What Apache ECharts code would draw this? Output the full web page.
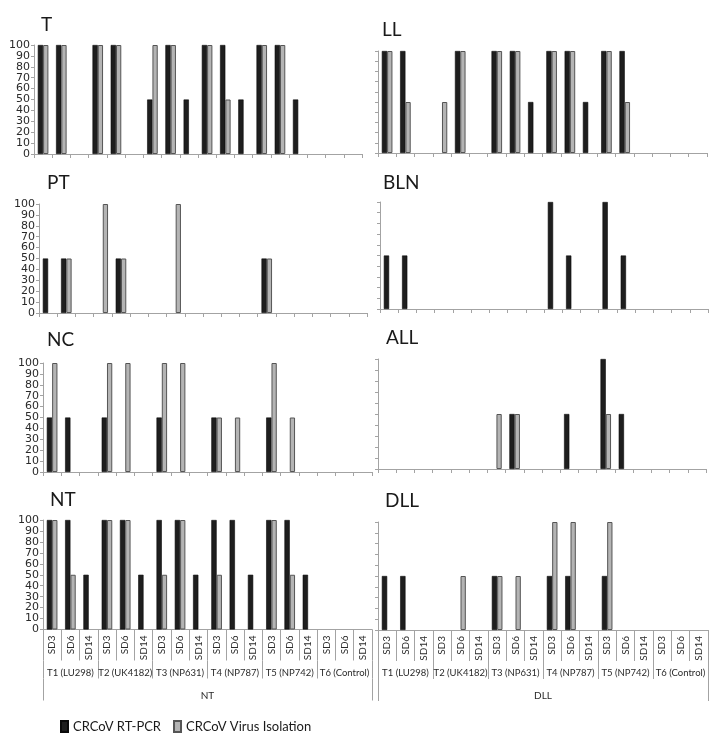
<!DOCTYPE html>
<html><head><meta charset="utf-8">
<script src="https://cdn.jsdelivr.net/npm/echarts@6/dist/echarts.min.js"></script>
<style>html,body{margin:0;padding:0;background:#fff}#c{width:722px;height:738px}</style>
</head><body><div id="c"></div>
<script>
// ---- data ----
const groups = ['T1 (LU298)','T2 (UK4182)','T3 (NP631)','T4 (NP787)','T5 (NP742)','T6 (Control)'];
const days = ['SD3','SD6','SD14'];
const dayLabels = groups.flatMap(() => days);
const seriesNames = ['CRCoV RT-PCR','CRCoV Virus Isolation'];
const yTicks = [0,10,20,30,40,50,60,70,80,90,100];

const T_pcr   = [100,100,0,100,100,0,50,100,50,100,100,50,100,100,50,0,0,0];
const T_vi    = [100,100,0,100,100,0,100,100,0,100,50,0,100,100,0,0,0,0];
const LL_pcr  = [100,100,0,0,100,0,100,100,50,100,100,50,100,100,0,0,0,0];
const LL_vi   = [100,50,0,50,100,0,100,100,0,100,100,0,100,50,0,0,0,0];
const PT_pcr  = [50,50,0,0,50,0,0,0,0,0,0,0,50,0,0,0,0,0];
const PT_vi   = [0,50,0,100,50,0,0,100,0,0,0,0,50,0,0,0,0,0];
const BLN_pcr = [50,50,0,0,0,0,0,0,0,100,50,0,100,50,0,0,0,0];
const BLN_vi  = [0,0,0,0,0,0,0,0,0,0,0,0,0,0,0,0,0,0];
const NC_pcr  = [50,50,0,50,0,0,50,0,0,50,0,0,50,0,0,0,0,0];
const NC_vi   = [100,0,0,100,100,0,100,100,0,50,50,0,100,50,0,0,0,0];
const ALL_pcr = [0,0,0,0,0,0,0,50,0,0,50,0,100,50,0,0,0,0];
const ALL_vi  = [0,0,0,0,0,0,50,50,0,0,0,0,50,0,0,0,0,0];
const NT_pcr  = [100,100,50,100,100,50,100,100,50,100,100,50,100,100,50,0,0,0];
const NT_vi   = [100,50,0,100,100,0,50,100,0,50,0,0,100,50,0,0,0,0];
const DLL_pcr = [50,50,0,0,0,0,50,0,0,50,50,0,50,0,0,0,0,0];
const DLL_vi  = [0,0,0,0,50,0,50,50,0,100,100,0,100,0,0,0,0,0];

const panels = [
  {name:'T',   pcr:T_pcr,   vi:T_vi},
  {name:'LL',  pcr:LL_pcr,  vi:LL_vi},
  {name:'PT',  pcr:PT_pcr,  vi:PT_vi},
  {name:'BLN', pcr:BLN_pcr, vi:BLN_vi},
  {name:'NC',  pcr:NC_pcr,  vi:NC_vi},
  {name:'ALL', pcr:ALL_pcr, vi:ALL_vi},
  {name:'NT',  pcr:NT_pcr,  vi:NT_vi, colLabel:'NT'},
  {name:'DLL', pcr:DLL_pcr, vi:DLL_vi, colLabel:'DLL'}
];

// ---- layout ----
const layout = [
  {left:34,  top:45,  width:328, height:109, tx:41,  ty:15,  yLab:true},
  {left:378, top:51,  width:329, height:102, tx:382, ty:20,  yLab:false},
  {left:39,  top:204, width:328, height:109, tx:47,  ty:173, yLab:true},
  {left:380, top:202, width:328, height:107, tx:383, ty:173, yLab:false},
  {left:43,  top:363, width:329, height:109, tx:47,  ty:330, yLab:true},
  {left:378, top:359, width:328, height:110, tx:386, ty:328, yLab:false},
  {left:43,  top:520, width:329, height:109.5, tx:50,  ty:490, yLab:true,  bottom:true},
  {left:378, top:522, width:330, height:108, tx:385, ty:491, yLab:false, bottom:true}
];

const FONT = 'Lato';
const AX = '#a3a3a3';
const TXT = '#2a2a2a';
const grid = [], xAxis = [], yAxis = [], series = [], title = [];
const nz = arr => arr.map(v => v === 0 ? '-' : v);

panels.forEach((p, i) => {
  const L = layout[i];
  grid.push({left:L.left, top:L.top, width:L.width, height:L.height});
  title.push({text:p.name, left:L.tx, top:L.ty, padding:0,
    textStyle:{fontFamily:FONT, fontSize:19, fontWeight:'normal', color:'#1a1a1a'}});
  const mainIdx = xAxis.length;
  xAxis.push({
    type:'category', gridIndex:i, data:dayLabels, boundaryGap:true,
    axisLine:{show:true, lineStyle:{color:AX, width:1}},
    axisTick:{show:true, interval:0, alignWithLabel:false, length:L.bottom?31:4, lineStyle:{color:AX}},
    axisLabel: L.bottom ? {show:true, interval:0, rotate:90, fontSize:10, margin:6, color:TXT, fontFamily:FONT, hideOverlap:false}
                        : {show:false},
    splitLine:{show:false}
  });
  if (L.bottom) {
    xAxis.push({
      type:'category', gridIndex:i, position:'bottom', offset:31, data:groups, boundaryGap:true,
      axisLine:{show:false},
      axisTick:{show:true, interval:0, length:18, lineStyle:{color:AX}},
      axisLabel:{show:true, interval:0, fontSize:9.5, margin:7, color:TXT, fontFamily:FONT, hideOverlap:false},
      splitLine:{show:false}
    });
    xAxis.push({
      type:'category', gridIndex:i, position:'bottom', offset:49, data:[p.colLabel], boundaryGap:true,
      axisLine:{show:false},
      axisTick:{show:true, interval:0, length:22, lineStyle:{color:AX}},
      axisLabel:{show:true, interval:0, fontSize:10, margin:12, color:TXT, fontFamily:FONT},
      splitLine:{show:false}
    });
  }
  yAxis.push({
    type:'value', gridIndex:i, min:yTicks[0], max:yTicks[yTicks.length-1], interval:yTicks[1]-yTicks[0],
    axisLine:{show:true, lineStyle:{color:AX}},
    axisTick:{show:true, length:3, lineStyle:{color:AX}},
    axisLabel: L.yLab ? {show:true, fontSize:11, margin:4, color:TXT, fontFamily:'DejaVu Sans',
                         showMinLabel:true, showMaxLabel:true, hideOverlap:false} : {show:false},
    splitLine:{show:false}
  });
  series.push({
    name:seriesNames[0], type:'bar', xAxisIndex:mainIdx, yAxisIndex:i, data:nz(p.pcr),
    barWidth:'29%', barGap:'0%',
    itemStyle:{color:'#1e1e1e', borderColor:'#0a0a0a', borderWidth:0.6}
  });
  series.push({
    name:seriesNames[1], type:'bar', xAxisIndex:mainIdx, yAxisIndex:i, data:nz(p.vi),
    barWidth:'29%', barGap:'0%',
    itemStyle:{color:'#b4b4b4', borderColor:'#555555', borderWidth:1}
  });
});

const chart = echarts.init(document.getElementById('c'), null, {renderer:'canvas'});
chart.setOption({
  animation:false,
  backgroundColor:'#ffffff',
  textStyle:{fontFamily:FONT},
  title, grid, xAxis, yAxis, series,
  legend:{
    data:seriesNames, left:55, top:715, icon:'rect', itemWidth:7, itemHeight:11, itemGap:12,
    textStyle:{fontFamily:FONT, fontSize:13, color:'#1a1a1a'}
  }
});
</script></body></html>
